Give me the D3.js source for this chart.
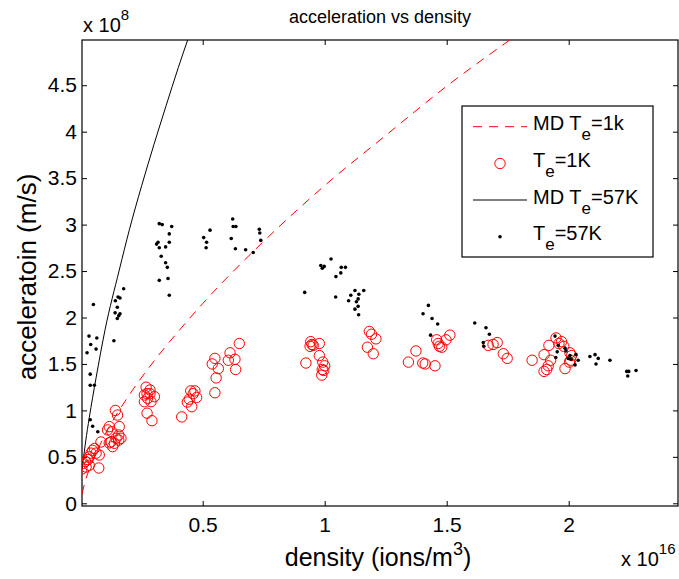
<!DOCTYPE html>
<html><head><meta charset="utf-8">
<script src="https://cdn.jsdelivr.net/npm/d3@7"></script>
<style>body{margin:0;background:#fff} text{font-family:"Liberation Sans",Arial,Helvetica,sans-serif;fill:#000}</style>
</head><body><svg id="c" width="679" height="579"></svg>
<script>
// ---- data (density in 1e16 ions/m^3, acceleration in 1e8 m/s) ----
const xTicks = [0.5, 1, 1.5, 2];
const yTicks = [0, 0.5, 1, 1.5, 2, 2.5, 3, 3.5, 4, 4.5];

// model curve MD Te=1k
const md1kDensity = [0.005, 0.02, 0.05, 0.1, 0.2, 0.3, 0.4, 0.5, 0.75, 1.0, 1.25, 1.5, 1.76, 1.9];
const md1kAccel   = [0.10, 0.25, 0.46, 0.74, 1.17, 1.53, 1.85, 2.15, 2.82, 3.42, 3.96, 4.49, 4.99, 5.25];

// model curve MD Te=57K
const md57kDensity = [0.005, 0.01, 0.02, 0.035, 0.063, 0.1, 0.158, 0.2, 0.25, 0.3, 0.35, 0.4, 0.44, 0.5];
const md57kAccel   = [0.36, 0.46, 0.66, 0.92, 1.35, 1.87, 2.51, 2.95, 3.42, 3.86, 4.28, 4.69, 5.0, 5.45];

// measured Te=1K (red circles)
const te1kDensity = [
  0.005,0.011,0.022,0.019,0.029,0.035,0.042,0.049,0.063,0.076,0.074,0.035,0.056,0.083,
  0.117,0.110,0.128,0.158,0.142,0.151,0.124,0.131,0.117,0.145,0.156,0.156,0.165,0.138,
  0.268,0.284,0.272,0.261,0.302,0.274,0.288,0.261,0.272,0.292,0.284,
  0.414,0.437,0.451,0.461,0.468,0.455,0.475,0.445,
  0.539,0.550,0.564,0.555,0.550,0.605,0.612,0.632,0.635,0.650,
  0.923,0.943,0.953,0.978,0.940,0.948,0.978,0.992,1.000,0.990,0.996,0.988,
  1.183,1.192,1.210,1.175,1.199,
  1.343,1.374,1.402,1.412,1.452,1.459,1.465,1.470,1.480,1.497,1.513,
  1.670,1.690,1.707,1.732,1.748,
  1.850,1.899,1.919,1.948,1.971,1.980,1.926,1.916,1.910,1.899,1.985,2.005,2.012,2.008,2.003,1.960
];
const te1kAccel = [
  0.37,0.43,0.39,0.45,0.47,0.50,0.54,0.57,0.54,0.52,0.38,0.41,0.59,0.66,
  0.825,0.79,0.77,0.825,1.00,0.95,0.66,0.61,0.65,0.70,0.735,0.68,0.70,0.646,
  1.25,1.22,1.18,1.166,1.148,1.13,1.094,1.094,0.97,0.889,1.18,
  0.93,1.09,1.21,1.18,1.21,1.04,1.14,1.12,
  1.50,1.56,1.45,1.35,1.19,1.54,1.62,1.55,1.44,1.72,
  1.51,1.74,1.70,1.72,1.69,1.71,1.59,1.52,1.48,1.44,1.43,1.38,
  1.85,1.82,1.77,1.68,1.61,
  1.52,1.64,1.51,1.50,1.48,1.76,1.72,1.69,1.68,1.76,1.81,
  1.70,1.71,1.73,1.61,1.56,
  1.54,1.60,1.70,1.78,1.74,1.69,1.54,1.48,1.44,1.42,1.45,1.62,1.59,1.54,1.52,1.72
];

// measured Te=57K (black dots)
const te57kDensity = [
  0.034,0.041,0.052,0.066,0.026,0.063,0.039,0.039,0.056,0.039,0.049,0.070,
  0.136,0.141,0.142,0.150,0.153,0.161,0.156,0.161,0.150,0.176,
  0.311,0.322,0.334,0.373,0.322,0.317,0.348,0.363,0.363,0.330,0.348,0.355,0.322,0.358,0.363,
  0.504,0.516,0.514,0.530,
  0.623,0.625,0.636,0.617,0.634,0.676,0.707,0.732,0.734,0.738,
  0.918,0.984,0.998,0.990,1.026,1.068,1.085,1.066,1.046,1.045,1.124,1.160,1.107,1.140,1.137,1.130,1.098,1.137,1.124,1.139,
  1.425,1.403,1.440,1.463,1.434,
  1.615,1.661,1.675,1.650,1.652,
  1.944,1.957,1.953,1.947,1.985,1.989,1.998,2.005,2.030,2.039,2.026,2.010,
  2.087,2.108,2.121,2.112,2.169,
  2.238,2.246,2.276,2.242
];
const te57kAccel = [
  1.80,1.71,2.14,1.78,1.62,1.66,1.39,1.27,1.27,0.90,0.83,0.77,
  1.75,2.05,2.18,2.11,2.22,2.21,2.02,2.04,1.99,2.31,
  2.79,3.01,3.00,2.98,2.75,2.81,2.76,2.90,2.81,2.66,2.59,2.54,2.40,2.42,2.24,
  2.86,2.81,2.75,2.94,
  3.06,2.98,2.98,2.85,2.74,2.73,2.70,2.95,2.91,2.83,
  2.27,2.56,2.55,2.53,2.63,2.54,2.54,2.48,2.44,2.22,2.29,2.29,2.24,2.25,2.20,2.17,2.18,2.12,2.09,2.03,
  2.13,2.04,1.99,1.93,1.81,
  1.94,1.89,1.82,1.73,1.69,
  1.80,1.70,1.63,1.57,1.67,1.64,1.56,1.59,1.60,1.54,1.49,1.55,
  1.58,1.60,1.56,1.50,1.54,
  1.42,1.42,1.43,1.37
];

// ---- drawing ----
const svg = d3.select("#c");
const L = 82, R = 678, T = 40, B = 506;
const x = d3.scaleLinear().domain([0.0053, 2.448]).range([L, R]);
const y = d3.scaleLinear().domain([-0.029, 4.987]).range([B, T]);
const FONT = '"Liberation Sans",Arial,Helvetica,sans-serif';

svg.append("defs").append("clipPath").attr("id", "clip")
  .append("rect").attr("x", L).attr("y", T).attr("width", R - L).attr("height", B - T);

// axes
const fmt = d => String(d);
const gB = svg.append("g").attr("transform", `translate(0,${B})`)
  .call(d3.axisBottom(x).tickValues(xTicks).tickSize(-5).tickPadding(11).tickFormat(fmt));
const gT = svg.append("g").attr("transform", `translate(0,${T})`)
  .call(d3.axisTop(x).tickValues(xTicks).tickSize(-5).tickFormat(""));
const gL = svg.append("g").attr("transform", `translate(${L},0)`)
  .call(d3.axisLeft(y).tickValues(yTicks).tickSize(-5).tickPadding(5).tickFormat(fmt));
const gR = svg.append("g").attr("transform", `translate(${R},0)`)
  .call(d3.axisRight(y).tickValues(yTicks).tickSize(-5).tickFormat(""));
[gB, gT, gL, gR].forEach(g => {
  g.select(".domain").remove();
  g.selectAll("line").attr("stroke", "#000").attr("stroke-width", 1);
  g.selectAll("text").attr("font-family", FONT).attr("font-size", 21).attr("fill", "#000");
});

// frame
svg.append("rect").attr("x", L).attr("y", T).attr("width", R - L).attr("height", B - T)
  .attr("fill", "none").attr("stroke", "#000").attr("stroke-width", 1.2);

const plot = svg.append("g").attr("clip-path", "url(#clip)");

// model curves
const line = d3.line().x(d => x(d[0])).y(d => y(d[1])).curve(d3.curveMonotoneX);
plot.append("path").datum(md1kDensity.map((d, i) => [d, md1kAccel[i]]))
  .attr("d", line).attr("fill", "none").attr("stroke", "#ff0000").attr("stroke-width", 1)
  .attr("stroke-dasharray", "9,7");
plot.append("path").datum(md57kDensity.map((d, i) => [d, md57kAccel[i]]))
  .attr("d", line).attr("fill", "none").attr("stroke", "#000").attr("stroke-width", 1);

// Te=1K circles
plot.append("g").selectAll("circle").data(te1kDensity.map((d, i) => [d, te1kAccel[i]]))
  .join("circle").attr("cx", d => x(d[0])).attr("cy", d => y(d[1])).attr("r", 5.2)
  .attr("fill", "none").attr("stroke", "#ff0000").attr("stroke-width", 1);

// Te=57K dots
plot.append("g").selectAll("circle").data(te57kDensity.map((d, i) => [d, te57kAccel[i]]))
  .join("circle").attr("cx", d => x(d[0])).attr("cy", d => y(d[1])).attr("r", 1.8)
  .attr("fill", "#000");

// title
svg.append("text").attr("x", 380).attr("y", 23).attr("text-anchor", "middle")
  .attr("font-size", 18).attr("font-family", FONT).text("acceleration vs density");

// exponent labels
const e8 = svg.append("text").attr("x", 83).attr("y", 32).attr("font-size", 20).attr("font-family", FONT);
e8.append("tspan").text("x 10");
e8.append("tspan").attr("font-size", 15).attr("dy", -12).text("8");
const e16 = svg.append("text").attr("x", 621).attr("y", 566).attr("font-size", 20).attr("font-family", FONT);
e16.append("tspan").text("x 10");
e16.append("tspan").attr("font-size", 15).attr("dy", -12).text("16");

// axis labels
const xl = svg.append("text").attr("x", 378).attr("y", 566).attr("text-anchor", "middle")
  .attr("font-size", 25).attr("font-family", FONT);
xl.append("tspan").text("density (ions/m");
xl.append("tspan").attr("font-size", 18).attr("dy", -11).text("3");
xl.append("tspan").attr("dy", 11).text(")");
svg.append("text").attr("transform", "translate(36,277) rotate(-90)").attr("text-anchor", "middle")
  .attr("font-size", 26).attr("font-family", FONT).text("acceleratoin (m/s)");

// legend
const lg = svg.append("g");
lg.append("rect").attr("x", 462).attr("y", 106).attr("width", 191).attr("height", 151)
  .attr("fill", "#fff").attr("stroke", "#000").attr("stroke-width", 1.2);
const rows = [126.7, 163.5, 200, 236.7];
const lx1 = 473, lx2 = 527, tx = 533;
lg.append("line").attr("x1", lx1).attr("x2", lx2).attr("y1", rows[0]).attr("y2", rows[0])
  .attr("stroke", "#ff0000").attr("stroke-width", 1).attr("stroke-dasharray", "9,7");
lg.append("circle").attr("cx", 500).attr("cy", rows[1]).attr("r", 5.2)
  .attr("fill", "none").attr("stroke", "#ff0000").attr("stroke-width", 1);
lg.append("line").attr("x1", lx1).attr("x2", lx2).attr("y1", rows[2]).attr("y2", rows[2])
  .attr("stroke", "#000").attr("stroke-width", 1);
lg.append("circle").attr("cx", 500).attr("cy", rows[3]).attr("r", 1.8).attr("fill", "#000");
const labels = [["MD T", "=1k"], ["T", "=1K"], ["MD T", "=57K"], ["T", "=57K"]];
labels.forEach((lb, i) => {
  const t = lg.append("text").attr("x", tx).attr("y", rows[i] + 3.5)
    .attr("font-size", 20).attr("font-family", FONT);
  t.append("tspan").text(lb[0]);
  t.append("tspan").attr("font-size", 17).attr("dy", 10).text("e");
  t.append("tspan").attr("dy", -10).text(lb[1]);
});
</script></body></html>
